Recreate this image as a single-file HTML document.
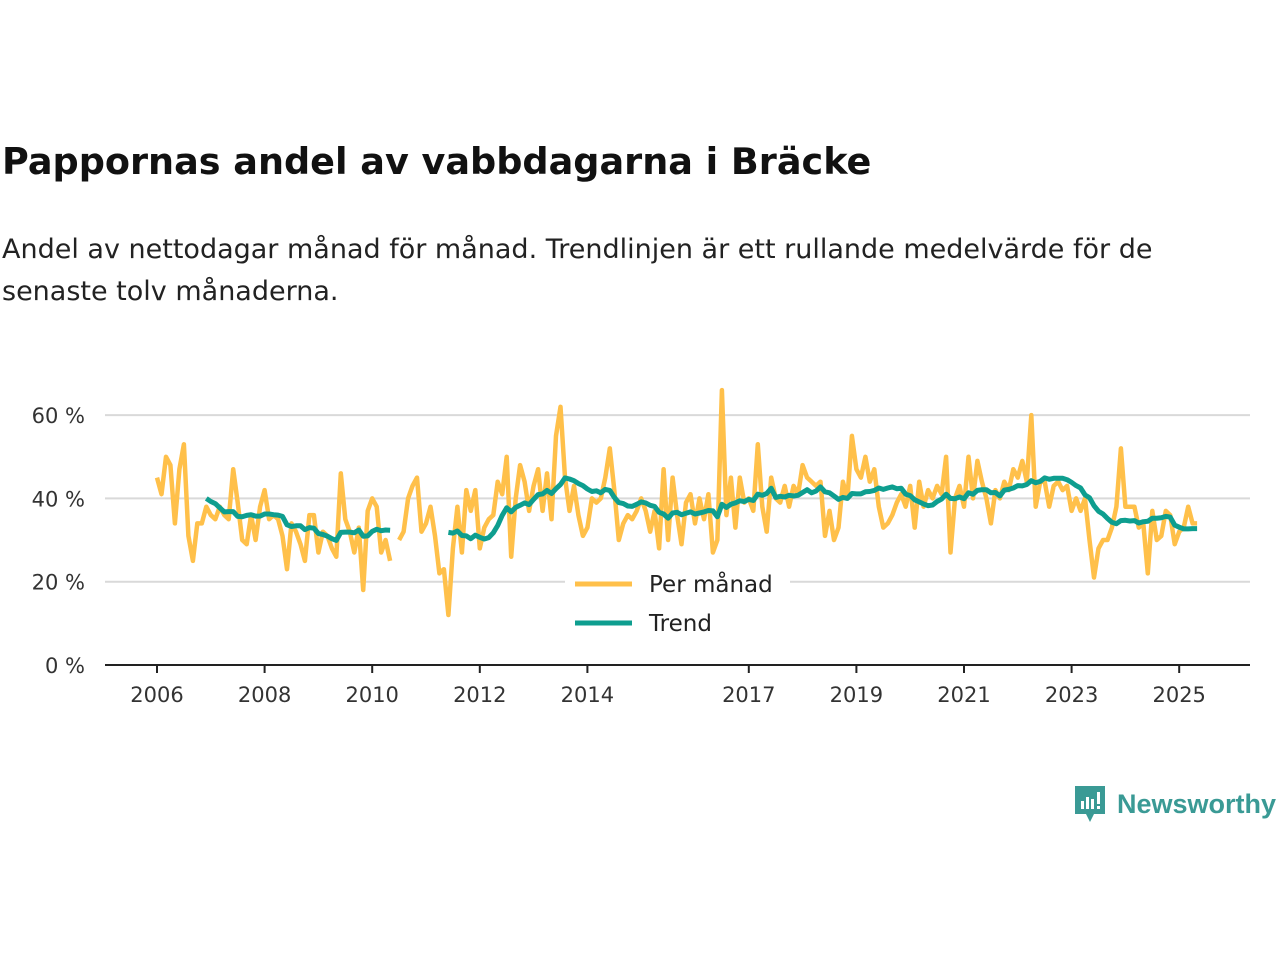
<!DOCTYPE html>
<html><head><meta charset="utf-8"><style>
body{margin:0;width:1280px;height:960px;background:#fff;font-family:"DejaVu Sans","Liberation Sans",sans-serif;overflow:hidden;position:relative}
h1{position:absolute;left:2px;top:140px;margin:0;font-size:36.6px;font-weight:bold;color:#111}
p{position:absolute;left:2px;top:229px;margin:0;font-size:27px;line-height:42px;color:#222;width:1250px}
</style></head><body>
<h1>Pappornas andel av vabbdagarna i Bräcke</h1>
<p>Andel av nettodagar månad för månad. Trendlinjen är ett rullande medelvärde för de senaste tolv månaderna.</p>
<svg id="chart" width="1280" height="960" style="position:absolute;left:0;top:0"></svg>
<div style="position:absolute;left:1073px;top:784px;display:flex;align-items:center">
<svg width="34" height="40"><path d="M2 2h30v28h-11l-4 8-4-8h-11z" fill="#3a9a95"/><rect x="8" y="17" width="3" height="8" fill="#fff"/><rect x="13" y="13" width="3" height="12" fill="#fff"/><rect x="18" y="15" width="3" height="10" fill="#fff"/><rect x="24" y="8" width="3" height="12" fill="#fff"/><rect x="24" y="22" width="3" height="3" fill="#fff"/></svg>
<span style="font-size:27px;font-weight:bold;color:#3a9a95;margin-left:10px;font-family:'Liberation Sans',sans-serif">Newsworthy</span></div>
<script>
const years=[2006,2007,2008,2009,2010,2011,2012,2013,2014,2015,2016,2017,2018,2019,2020,2021,2022,2023,2024,2025];
const monthly=[
45,41,50,48,34,47,53,31,25,34,34,38,
36,35,38,36,35,47,39,30,29,36,30,38,
42,35,36,35,31,23,34,32,29,25,36,36,
27,32,31,28,26,46,35,32,27,33,18,37,
40,38,27,30,25,null,30,32,40,43,45,32,
34,38,31,22,23,12,28,38,27,42,37,42,
28,33,35,36,44,41,50,26,40,48,44,37,
43,47,37,46,35,55,62,45,37,43,36,31,
33,40,39,40,45,52,42,30,34,36,35,37,
40,37,32,37,28,47,30,45,36,29,39,
41,34,40,35,41,27,30,66,36,45,33,
45,39,40,37,53,38,32,45,40,39,43,38,
43,41,48,45,44,43,44,31,37,30,33,44,
40,55,47,45,50,44,47,38,33,34,36,39,
41,38,43,33,44,38,42,40,43,41,50,27,
40,43,38,50,40,49,44,40,34,42,40,44,
42,47,45,49,44,60,38,44,44,38,43,44,
42,43,37,40,37,40,30,21,28,30,30,33,
38,52,38,38,38,33,34,22,37,30,31,37,
36,29,32,33,38,34,34];
const yTicks=[0,20,40,60];
const xTicks=[2006,2008,2010,2012,2014,2017,2019,2021,2023,2025];
const NS="http://www.w3.org/2000/svg",svg=document.getElementById('chart');
const x=t=>157+(t-2006)*53.8, y=v=>665-v*4.165;
function mk(tag,attrs){const e=document.createElementNS(NS,tag);for(const k in attrs)e.setAttribute(k,attrs[k]);svg.appendChild(e);return e;}
yTicks.forEach(v=>{
 if(v>0){const g=mk('line',{x1:105,x2:1250,y1:y(v),y2:y(v),stroke:'#d9d9d9','stroke-width':2});
 
 }
 const t=mk('text',{x:85,y:y(v)+8,'text-anchor':'end','font-size':21,fill:'#333'});t.textContent=v+' %';
 
 
});
const ax=mk('line',{x1:105,x2:1250,y1:665,y2:665,stroke:'#222','stroke-width':2});


xTicks.forEach(v=>{
 const l=mk('line',{x1:x(v),x2:x(v),y1:665,y2:673,stroke:'#222','stroke-width':2});
 
 
 const t=mk('text',{x:x(v),y:702,'text-anchor':'middle','font-size':21,fill:'#333'});t.textContent=v;
 
 
});
const trend=monthly.map((v,i)=>{if(i<11)return null;const w=monthly.slice(i-11,i+1);if(w.some(a=>a==null))return null;return w.reduce((a,b)=>a+b,0)/12;});
function path(arr){let d='',pen=false;arr.forEach((v,i)=>{if(v==null){pen=false;return;}const px=x(2006+i/12),py=y(v);d+=(pen?'L':'M')+px.toFixed(1)+' '+py.toFixed(1);pen=true;});return d;}
const p1=mk('path',{d:path(monthly),fill:'none',stroke:'#ffc04a','stroke-width':4.5,'stroke-linejoin':'round'});


const p2=mk('path',{d:path(trend),fill:'none',stroke:'#0e9e8f','stroke-width':5,'stroke-linejoin':'round'});


[['Per månad','#ffc04a',584],['Trend','#0e9e8f',623]].forEach(([n,c,yy])=>{
 const g=mk('rect',{x:565,y:yy-20,width:225,height:36,fill:'#fff'});
 
 
 const l=mk('line',{x1:575,x2:632,y1:yy,y2:yy,stroke:c,'stroke-width':5});
 
 
 const t=mk('text',{x:649,y:yy+8,'font-size':23,fill:'#222'});t.textContent=n;
 
 
});
</script>
</body></html>
